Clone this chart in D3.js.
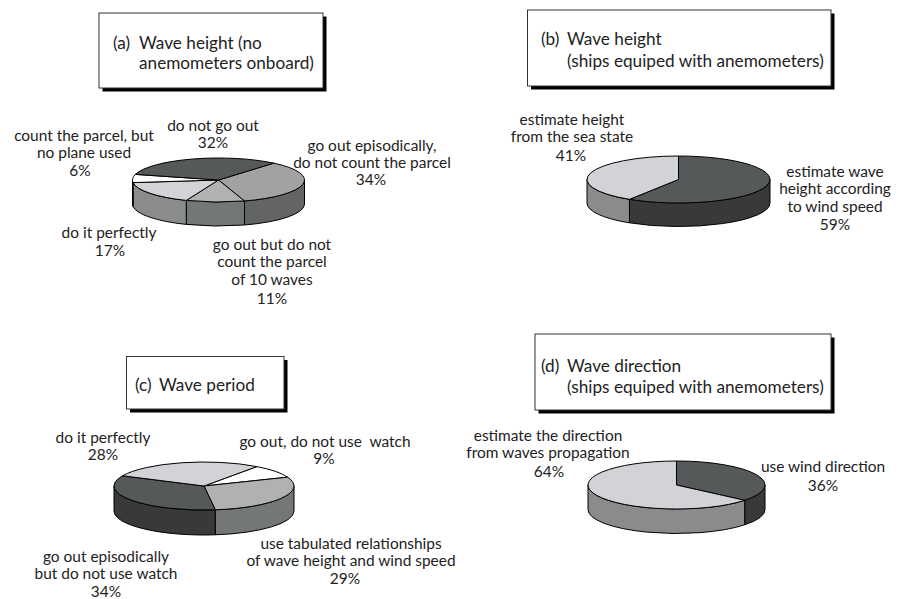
<!DOCTYPE html>
<html>
<head>
<meta charset="utf-8">
<script src="https://cdn.jsdelivr.net/npm/d3@7/dist/d3.min.js"></script>
<style>
  html, body { margin: 0; padding: 0; background: #fff; }
  svg { display: block; }
  text { font-family: Lato, sans-serif; fill: #222; }
</style>
</head>
<body>
<svg id="chart" width="900" height="599"></svg>
<script>
// Survey shares for each panel, clockwise from the first slice
const heightNoAnemometerValues = [34, 11, 17, 6, 32];
const heightAnemometerValues = [59, 41];
const periodValues = [9, 29, 34, 28];
const directionValues = [36, 64];

// Slice labels, in the same order as the values
const heightNoAnemometerLabels = [
  ["go out episodically,", "do not count the parcel"],
  ["go out but do not", "count the parcel", "of 10 waves"],
  ["do it perfectly"],
  ["count the parcel, but", "no plane used"],
  ["do not go out"]
];
const heightAnemometerLabels = [
  ["estimate wave", "height according", "to wind speed"],
  ["estimate height", "from the sea state"]
];
const periodLabels = [
  ["go out, do not use  watch"],
  ["use tabulated relationships", "of wave height and wind speed"],
  ["go out episodically", "but do not use watch"],
  ["do it perfectly"]
];
const directionLabels = [
  ["use wind direction"],
  ["estimate the direction", "from waves propagation"]
];

// Panel headings
const panelTitles = [
  ["(a)", "Wave height (no", "anemometers onboard)"],
  ["(b)", "Wave height", "(ships equiped with anemometers)"],
  ["(c)", "Wave period"],
  ["(d)", "Wave direction", "(ships equiped with anemometers)"]
];

// Top and side shades of the pie slices
const tone = {
  dark: ["#555959", "#393939"],
  mid: ["#a2a2a5", "#626564"],
  soft: ["#b1b1b3", "#737777"],
  pale: ["#d3d3d7", "#8a8c8c"],
  white: ["#ffffff", "#8a8c8c"]
};

// Layout per panel. Each anchor is [text x, first baseline, percent x, percent baseline].
const panels = [
  {
    values: heightNoAnemometerValues, labels: heightNoAnemometerLabels, title: panelTitles[0],
    tones: ["mid", "soft", "pale", "white", "dark"], start: 40,
    pie: { cx: 218.5, cy: 180, rx: 86, ry: 22, depth: 24 },
    box: { x: 99, y: 13, w: 224, h: 75, tx: 113, tx2: 139, ty: 49, ty2: 69 },
    anchors: [[372, 151, 371, 185], [272, 250, 272, 304], [109, 238, 110, 256], [84, 141, 80, 176], [213, 131, 213, 148]]
  },
  {
    values: heightAnemometerValues, labels: heightAnemometerLabels, title: panelTitles[1],
    tones: ["dark", "pale"], start: 0,
    pie: { cx: 678.5, cy: 179.5, rx: 91.5, ry: 23.5, depth: 23.5 },
    box: { x: 527.5, y: 10, w: 303.5, h: 76, tx: 541, tx2: 567, ty: 45, ty2: 67 },
    anchors: [[835, 177, 835, 230], [572, 125, 571, 161]]
  },
  {
    values: periodValues, labels: periodLabels, title: panelTitles[2],
    tones: ["white", "soft", "dark", "pale"], start: 36,
    pie: { cx: 204, cy: 486, rx: 90, ry: 24, depth: 25 },
    box: { x: 126.5, y: 356.5, w: 157.5, h: 52.5, tx: 135, tx2: 159, ty: 391, ty2: 391 },
    anchors: [[325, 447, 324, 464], [351, 549, 345, 584], [106, 562, 106, 597], [103, 443, 103, 460]]
  },
  {
    values: directionValues, labels: directionLabels, title: panelTitles[3],
    tones: ["dark", "pale"], start: 0,
    pie: { cx: 676.5, cy: 485, rx: 88.5, ry: 24, depth: 24.5 },
    box: { x: 535, y: 334, w: 296, h: 76, tx: 541, tx2: 567, ty: 372, ty2: 393 },
    anchors: [[823, 472, 823, 491], [548, 441, 549, 477]]
  }
];

const svg = d3.select("#chart");
const LABEL_SIZE = 15.45;
const TITLE_SIZE = 17.2;
const LINE_STEP = 17.3;
const rad = d3.scaleLinear().domain([0, 360]).range([0, 2 * Math.PI]);

// Side wall of one slice: only the part of the rim that faces the viewer
function wallPath(a, b, p) {
  const lo = Math.max(a, Math.PI / 2);
  const hi = Math.min(b, 3 * Math.PI / 2);
  if (hi <= lo) return null;
  const px = t => p.cx + p.rx * Math.sin(t);
  const py = t => p.cy - p.ry * Math.cos(t);
  return `M${px(lo)},${py(lo)}` +
    `A${p.rx},${p.ry} 0 0 1 ${px(hi)},${py(hi)}` +
    `L${px(hi)},${py(hi) + p.depth}` +
    `A${p.rx},${p.ry} 0 0 0 ${px(lo)},${py(lo) + p.depth}Z`;
}

panels.forEach(panel => {
  const { pie: p, box: b } = panel;
  const g = svg.append("g");

  // Heading box with its hard drop shadow
  g.append("rect").attr("x", b.x + 3.5).attr("y", b.y + 3.5)
    .attr("width", b.w).attr("height", b.h).attr("fill", "#000");
  g.append("rect").attr("x", b.x).attr("y", b.y)
    .attr("width", b.w).attr("height", b.h)
    .attr("fill", "#fff").attr("stroke", "#333").attr("stroke-width", 1);
  g.append("text").attr("x", b.tx).attr("y", b.ty).attr("font-size", TITLE_SIZE).text(panel.title[0]);
  g.append("text").attr("x", b.tx2).attr("y", b.ty).attr("font-size", TITLE_SIZE).text(panel.title[1]);
  if (panel.title[2]) {
    g.append("text").attr("x", b.tx2).attr("y", b.ty2).attr("font-size", TITLE_SIZE).text(panel.title[2]);
  }

  // Slice angles from the values, clockwise from the panel's start angle
  const arcs = d3.pie().sort(null)
    .startAngle(rad(panel.start))
    .endAngle(rad(panel.start + 360))(panel.values);

  g.append("g").selectAll("path")
    .data(arcs.filter(d => wallPath(d.startAngle, d.endAngle, p)))
    .join("path")
    .attr("d", d => wallPath(d.startAngle, d.endAngle, p))
    .attr("fill", d => tone[panel.tones[d.index]][1])
    .attr("stroke", "#000").attr("stroke-width", 1).attr("stroke-linejoin", "round");

  // Top face: a flat pie squashed into an ellipse
  const arc = d3.arc().innerRadius(0).outerRadius(p.rx);
  g.append("g")
    .attr("transform", `translate(${p.cx},${p.cy}) scale(1,${p.ry / p.rx})`)
    .selectAll("path").data(arcs).join("path")
    .attr("d", arc)
    .attr("fill", d => tone[panel.tones[d.index]][0])
    .attr("stroke", "#000").attr("stroke-width", 1)
    .attr("stroke-linejoin", "round")
    .attr("vector-effect", "non-scaling-stroke");

  // Slice captions, with the percentage on its own line
  panel.labels.forEach((lines, i) => {
    const [x, y, pctX, pctY] = panel.anchors[i];
    const t = g.append("text").attr("text-anchor", "middle").attr("font-size", LABEL_SIZE)
      .style("white-space", "pre");
    lines.forEach((s, k) => {
      t.append("tspan").attr("x", x).attr("y", y + k * LINE_STEP).text(s);
    });
    t.append("tspan").attr("x", pctX).attr("y", pctY).text(panel.values[i] + "%");
  });
});
</script>
</body>
</html>
